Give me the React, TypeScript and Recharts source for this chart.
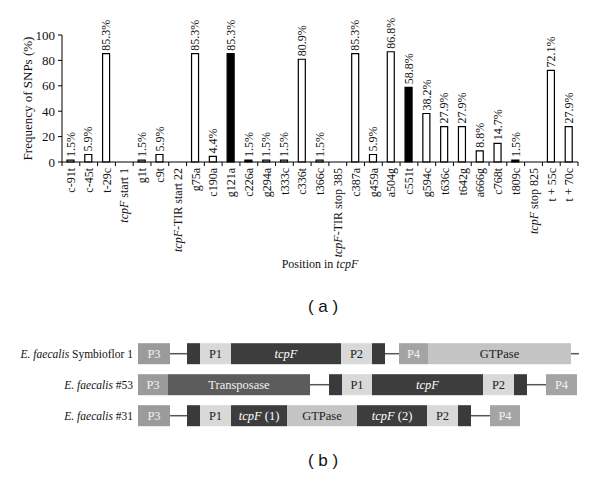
import React from 'react';
import { BarChart, Bar, XAxis, YAxis, Cell, LabelList, Label } from 'recharts';

// (a) SNP frequencies along tcpF
const categories = [
  'c-91t', 'c-45t', 't-29c', 'tcpF start 1', 'g1t', 'c9t', 'tcpF-TIR start 22', 'g75a', 'c190a',
  'g121a', 'c226a', 'g294a', 't333c', 'c336t', 't366c', 'tcpF-TIR stop 385', 'c387a', 'g459a',
  'a504g', 'c551t', 'g594c', 't636c', 't642g', 'a666g', 'c768t', 't809c', 'tcpF stop 825',
  't + 55c', 't + 70c',
];
const frequencies: (number | null)[] = [
  1.5, 5.9, 85.3, null, 1.5, 5.9, null, 85.3, 4.4,
  85.3, 1.5, 1.5, 1.5, 80.9, 1.5, null, 85.3, 5.9,
  86.8, 58.8, 38.2, 27.9, 27.9, 8.8, 14.7, 1.5, null,
  72.1, 27.9,
];
const highlighted = ['g121a', 'c226a', 'c551t', 't809c'];
const yTicks = [0, 20, 40, 60, 80, 100];

// (b) gene organisation, segment kind + length
const strains = ['Symbioflor 1', '#53', '#31'];
const symbioflorSegments: [string, number][] = [
  ['P3', 32], ['line', 17], ['box', 13], ['P1', 31], ['tcpF', 110], ['P2', 31], ['box', 13],
  ['line', 14], ['P4', 29], ['GTPase', 143], ['line', 8],
];
const strain53Segments: [string, number][] = [
  ['P3', 30], ['Transposase', 142], ['line', 19], ['box', 13], ['P1', 30], ['tcpF', 111],
  ['P2', 31], ['box', 13], ['line', 19], ['P4', 31],
];
const strain31Segments: [string, number][] = [
  ['P3', 32], ['line', 17], ['box', 13], ['P1', 31], ['tcpF (1)', 56], ['GTPase', 70],
  ['tcpF (2)', 70], ['P2', 31], ['box', 13], ['line', 19], ['P4', 30],
];

const SERIF = '"Liberation Serif", "Times New Roman", serif';
const PLOT_LEFT = 62;
const PLOT_RIGHT = 578;
const BAND = (PLOT_RIGHT - PLOT_LEFT) / categories.length;

const snpData = categories.map((name, i) => ({ name, freq: frequencies[i] }));

const segStyles: Record<string, { fill: string; text: string }> = {
  P3: { fill: '#9b9b9b', text: '#f2f2f2' },
  P4: { fill: '#a4a4a4', text: '#f2f2f2' },
  P1: { fill: '#d9d9d9', text: '#222' },
  P2: { fill: '#d9d9d9', text: '#222' },
  tcpF: { fill: '#3d3d3d', text: '#fff' },
  GTPase: { fill: '#c4c4c4', text: '#222' },
  Transposase: { fill: '#5c5c5c', text: '#f0f0f0' },
  box: { fill: '#3a3a3a', text: '#fff' },
};

const layouts = [symbioflorSegments, strain53Segments, strain31Segments];
const maxSegs = Math.max(...layouts.map((l) => l.length));
const geneData = strains.map((name, r) => {
  const row: any = { name, segs: layouts[r] };
  for (let k = 0; k < maxSegs; k++) row[`s${k}`] = layouts[r][k] ? layouts[r][k][1] : 0;
  return row;
});
const total = Math.max(...layouts.map((l) => l.reduce((s, [, v]) => s + v, 0)));

// italic "tcpF" prefix
const rich = (label: string) => {
  if (label.startsWith('tcpF')) {
    return [
      <tspan key="a" fontStyle="italic">tcpF</tspan>,
      <tspan key="b">{label.slice(4)}</tspan>,
    ];
  }
  return label;
};

const CategoryTick = (props: any) => {
  const { x, y, payload, index } = props;
  return (
    <g>
      <line x1={x - BAND / 2} x2={x - BAND / 2} y1={y} y2={y + 4} stroke="#000" />
      {index === categories.length - 1 && (
        <line x1={x + BAND / 2} x2={x + BAND / 2} y1={y} y2={y + 4} stroke="#000" />
      )}
      <text
        transform={`translate(${x},${y + 6}) rotate(-90)`}
        textAnchor="end"
        dy="0.35em"
        fontSize={12}
        fontFamily={SERIF}
        fill="#111"
      >
        {rich(payload.value)}
      </text>
    </g>
  );
};

const ValueLabel = (props: any) => {
  const { x, y, width, value } = props;
  if (value == null) return null;
  return (
    <text
      transform={`translate(${x + width / 2},${y - 3}) rotate(-90)`}
      textAnchor="start"
      dy="0.35em"
      fontSize={12}
      fontFamily={SERIF}
      fill="#111"
    >
      {`${value}%`}
    </text>
  );
};

const segShape = (i: number) => (props: any) => {
  const { x, y, width, height, payload } = props;
  const seg = payload.segs[i];
  if (!seg || !(width > 0)) return <g />;
  const [kind] = seg;
  if (kind === 'line') {
    return <line x1={x} x2={x + width} y1={y + height / 2} y2={y + height / 2} stroke="#555" strokeWidth={1.5} />;
  }
  const base = kind.startsWith('tcpF') ? 'tcpF' : kind;
  const st = segStyles[base];
  return (
    <g>
      <rect x={x} y={y} width={width} height={height} fill={st.fill} />
      {kind !== 'box' && (
        <text
          x={x + width / 2}
          y={y + height / 2}
          dy="0.35em"
          textAnchor="middle"
          fontSize={12.5}
          fontFamily={SERIF}
          fill={st.text}
        >
          {rich(kind)}
        </text>
      )}
    </g>
  );
};

const StrainTick = (props: any) => {
  const { x, y, payload } = props;
  return (
    <text x={x} y={y} dy="0.35em" textAnchor="end" fontSize={11.5} fontFamily={SERIF} fill="#111">
      <tspan fontStyle="italic">E. faecalis</tspan>
      <tspan>{` ${payload.value}`}</tspan>
    </text>
  );
};

const panelLabel: React.CSSProperties = {
  position: 'absolute',
  left: 0,
  width: 646,
  textAlign: 'center',
  fontFamily: '"Liberation Sans", Arial, sans-serif',
  fontSize: 17,
  color: '#111',
  whiteSpace: 'pre',
};

export default function App() {
  return (
    <div style={{ position: 'absolute', left: 0, top: 0, width: 600, height: 477, background: '#fff' }}>
      <div style={{ position: 'absolute', left: 0, top: 0 }}>
        <BarChart
          width={600}
          height={290}
          data={snpData}
          margin={{ top: 35, right: 600 - PLOT_RIGHT, left: 0, bottom: 18 }}
          barSize={7}
        >
          <XAxis
            dataKey="name"
            interval={0}
            height={110}
            tickLine={false}
            tickSize={0}
            tickMargin={0}
            axisLine={{ stroke: '#000' }}
            tick={<CategoryTick />}
          >
            <Label
              content={(p: any) => {
                const vb = p.viewBox;
                return (
                  <text x={vb.x + vb.width / 2} y={vb.y + 106} textAnchor="middle" fontSize={12} fontFamily={SERIF} fill="#111">
                    Position in <tspan fontStyle="italic">tcpF</tspan>
                  </text>
                );
              }}
            />
          </XAxis>
          <YAxis
            width={PLOT_LEFT}
            domain={[0, 100]}
            ticks={yTicks}
            tickSize={4}
            tickMargin={3}
            axisLine={{ stroke: '#000' }}
            tickLine={{ stroke: '#000' }}
            tick={{ fontSize: 13, fontFamily: SERIF, fill: '#111' }}
          >
            <Label
              content={(p: any) => {
                const vb = p.viewBox;
                return (
                  <text
                    transform={`translate(27,${vb.y + vb.height / 2}) rotate(-90)`}
                    textAnchor="middle"
                    dy="0.35em"
                    fontSize={13}
                    fontFamily={SERIF}
                    fill="#111"
                  >
                    Frequency of SNPs (%)
                  </text>
                );
              }}
            />
          </YAxis>
          <Bar dataKey="freq" stroke="#000" strokeWidth={1.2} isAnimationActive={false}>
            {snpData.map((d) => (
              <Cell key={d.name} fill={highlighted.includes(d.name) ? '#000' : '#fff'} />
            ))}
            <LabelList dataKey="freq" content={<ValueLabel />} />
          </Bar>
        </BarChart>
      </div>
      <div style={{ ...panelLabel, top: 297 }}>( a )</div>

      <div style={{ position: 'absolute', left: 0, top: 330 }}>
        <BarChart
          width={600}
          height={110}
          layout="vertical"
          data={geneData}
          margin={{ top: 8.2, right: 600 - 138 - total, left: 0, bottom: 8.8 }}
          barSize={21}
        >
          <XAxis type="number" hide domain={[0, total]} />
          <YAxis
            type="category"
            dataKey="name"
            width={138}
            axisLine={false}
            tickLine={false}
            tickSize={0}
            tickMargin={5}
            tick={<StrainTick />}
          />
          {Array.from({ length: maxSegs }, (_, i) => (
            <Bar key={i} dataKey={`s${i}`} stackId="g" shape={segShape(i)} isAnimationActive={false} />
          ))}
        </BarChart>
      </div>
      <div style={{ ...panelLabel, top: 451 }}>( b )</div>
    </div>
  );
}
